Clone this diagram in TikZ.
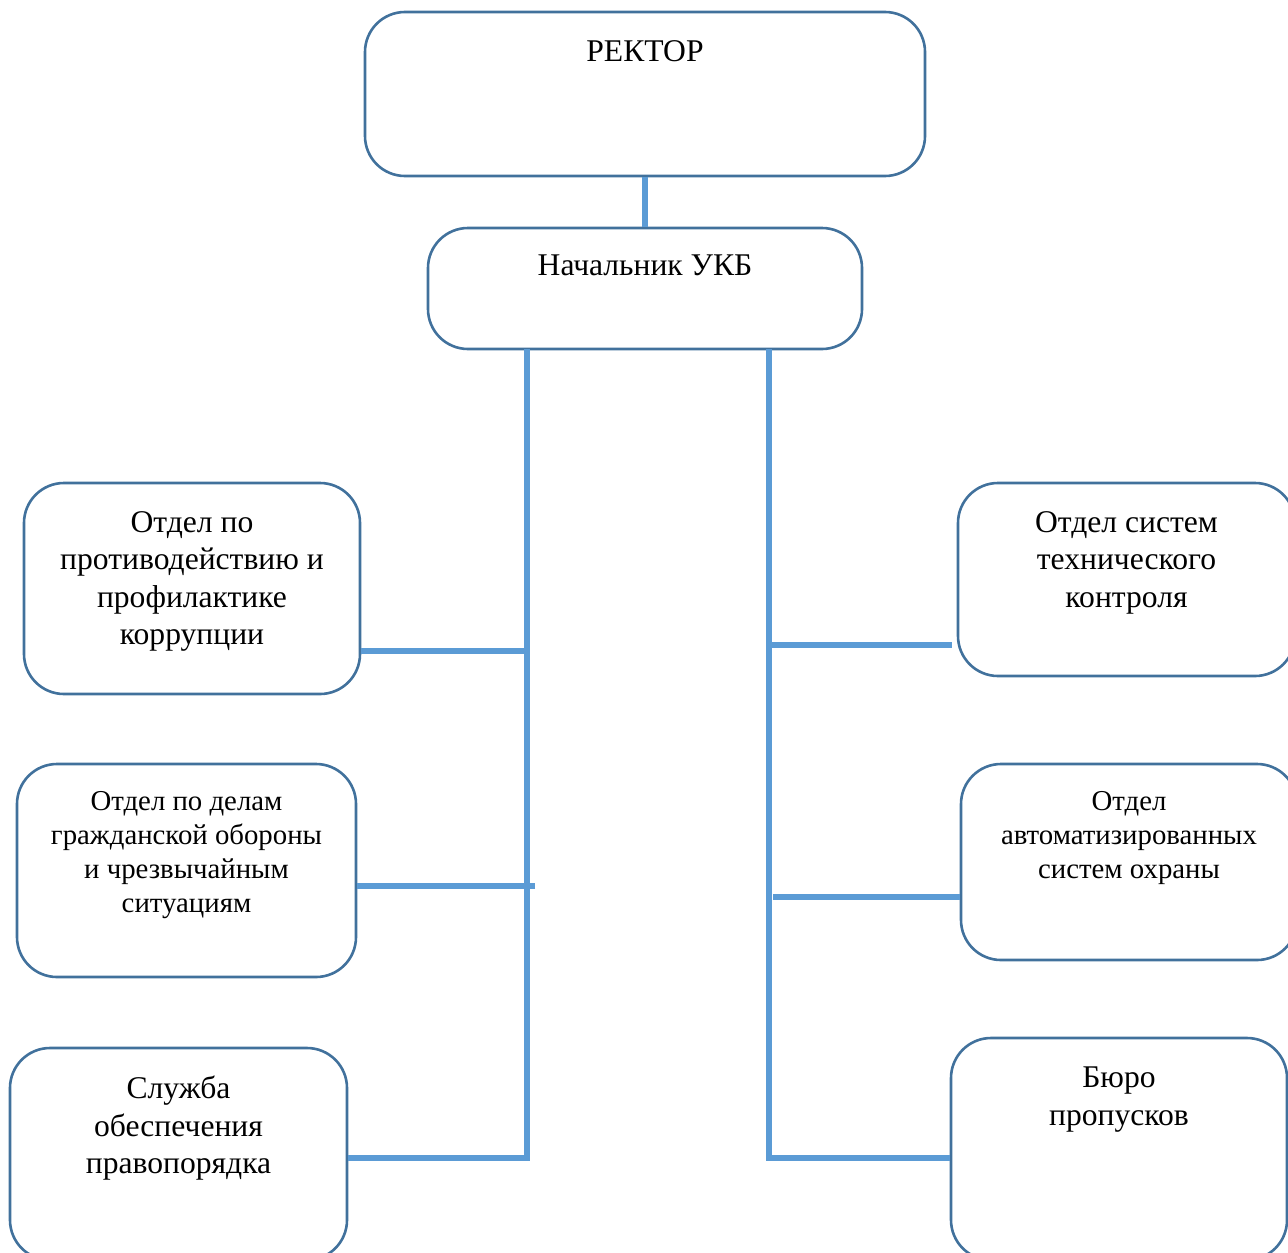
\documentclass[tikz,border=0pt]{standalone}
\usepackage{fontspec}
\setmainfont{Liberation Serif}
\definecolor{boxblue}{HTML}{41719C}
\definecolor{lineblue}{HTML}{5B9BD5}
\begin{document}
\begin{tikzpicture}[x=0.5pt,y=-0.5pt]
        \tikzstyle{block} = [rectangle, rounded corners=20pt, draw=boxblue, line width=1.3pt, inner sep=0pt]
        \tikzstyle{txt} = [anchor=north, align=center, inner sep=0pt, text=black, font=\fontsize{15.8}{18.75}\selectfont]
        \tikzstyle{smalltxt} = [txt, font=\fontsize{14.4}{17}\selectfont]
        \tikzstyle{line} = [draw=lineblue, line width=2.6pt]
        \useasboundingbox (0,0) rectangle (1288,1252);
        % top of the chart
        \node[block, minimum width=280pt, minimum height=82pt] (rector) at (645,94) {};
        \node[block, minimum width=217pt, minimum height=60.5pt] (chief) at (645,288.5) {};
        \node[txt] (rectortxt) at ([yshift=-14.5pt]rector.north) {РЕКТОР};
        \node[txt] (chieftxt) at ([yshift=-14pt]chief.north) {Начальник УКБ};
        % left column
        \node[block, minimum width=168pt, minimum height=105.5pt] (ldep1) at (192,588.5) {};
        \node[block, minimum width=169.5pt, minimum height=106.5pt] (ldep2) at (186.5,870.5) {};
        \node[block, minimum width=168.5pt, minimum height=106pt] (ldep3) at (178.5,1154) {};
        \node[txt] (ldep1txt) at ([yshift=-14.5pt]ldep1.north) {Отдел по\\противодействию и\\профилактике\\коррупции};
        \node[smalltxt] (ldep2txt) at ([yshift=-14pt]ldep2.north) {Отдел по делам\\гражданской обороны\\и чрезвычайным\\ситуациям};
        \node[txt] (ldep3txt) at ([yshift=-14.5pt]ldep3.north) {Служба\\обеспечения\\правопорядка};
        % right column
        \node[block, minimum width=168.5pt, minimum height=96.5pt] (rdep1) at (1126.5,579.5) {};
        \node[block, minimum width=168pt, minimum height=98pt] (rdep2) at (1129,862) {};
        \node[block, minimum width=168pt, minimum height=111pt] (rdep3) at (1119,1149) {};
        \node[txt] (rdep1txt) at ([yshift=-14.5pt]rdep1.north) {Отдел систем\\технического\\контроля};
        \node[smalltxt] (rdep2txt) at ([yshift=-14pt]rdep2.north) {Отдел\\автоматизированных\\систем охраны};
        \node[txt] (rdep3txt) at ([yshift=-15pt]rdep3.north) {Бюро\\пропусков};
        % spines and junctions
        \coordinate (ltop) at (527,349);
        \coordinate (lbot) at (527,1158);
        \coordinate (rtop) at (769,349);
        \coordinate (rbot) at (769,1158);
        \coordinate (lj1) at (527,651);
        \coordinate (lj2) at (535,886);
        \coordinate (rj1) at (769,645);
        \coordinate (rj2) at (773,897);
        \draw[line] (rector) to (chief);
        \draw[line] (ltop) -- (lbot) -- (lbot -| ldep3.east);
        \draw[line] (rtop) -- (rbot) -- (rbot -| rdep3.west);
        \draw[line] (lj1) -- (lj1 -| ldep1.east);
        \draw[line] (lj2) -- (lj2 -| ldep2.east);
        \draw[line] (rj1) -- ([xshift=-2.5pt]rj1 -| rdep1.west);
        \draw[line] (rj2) -- (rj2 -| rdep2.west);
    \end{tikzpicture}
\end{document}
